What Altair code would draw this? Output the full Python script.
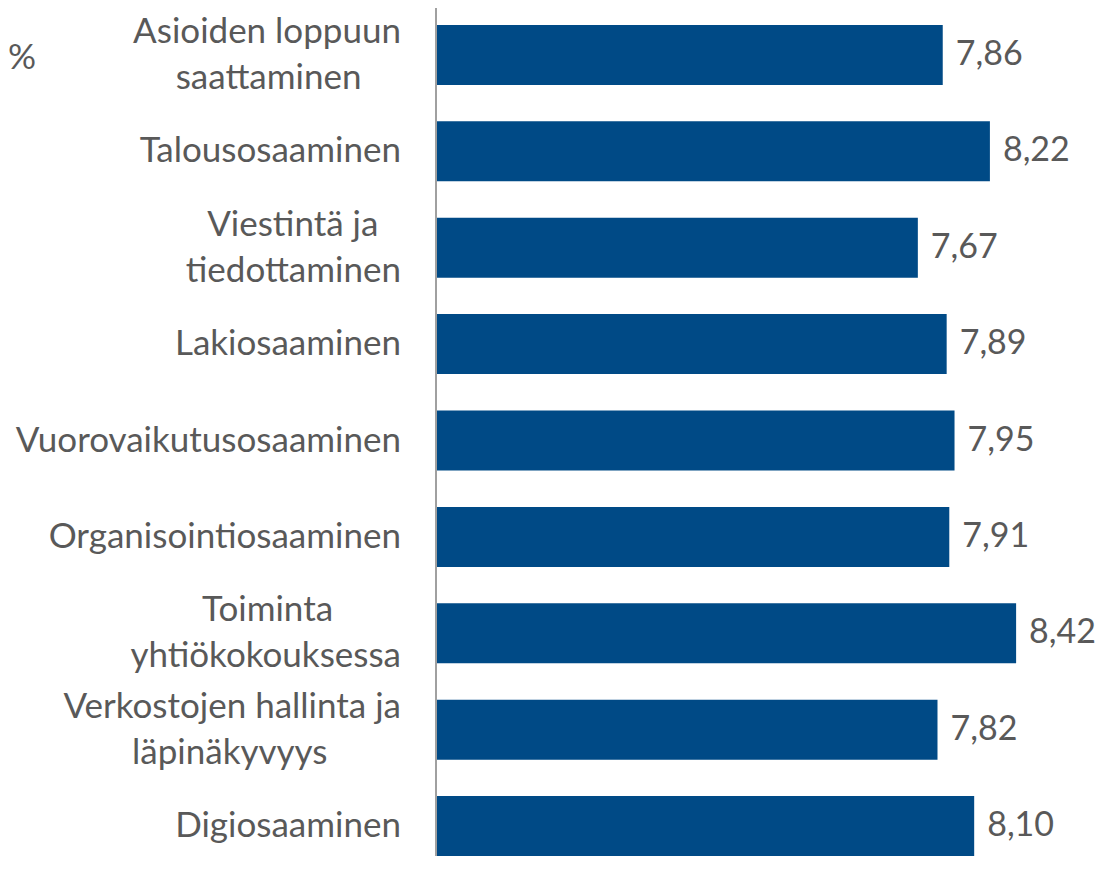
import altair as alt
import pandas as pd

# ---- data ----
categories = [
    "Asioiden loppuun saattaminen",
    "Talousosaaminen",
    "Viestintä ja tiedottaminen",
    "Lakiosaaminen",
    "Vuorovaikutusosaaminen",
    "Organisointiosaaminen",
    "Toiminta yhtiökokouksessa",
    "Verkostojen hallinta ja läpinäkyvyys",
    "Digiosaaminen",
]
label_lines = [
    ["Asioiden loppuun", "saattaminen"],
    ["Talousosaaminen"],
    ["Viestintä ja", "tiedottaminen"],
    ["Lakiosaaminen"],
    ["Vuorovaikutusosaaminen"],
    ["Organisointiosaaminen"],
    ["Toiminta", "yhtiökokouksessa"],
    ["Verkostojen hallinta ja", "läpinäkyvyys"],
    ["Digiosaaminen"],
]
values = [7.86, 8.22, 7.67, 7.89, 7.95, 7.91, 8.42, 7.82, 8.10]
unit_label = "%"
x_min = 4

# ---- style ----
FONT = "Lato"
FS = 35
VAL_FS = 34
TEXT_COLOR = "#595959"
BAR_COLOR = "#004A86"
LINE_H = 46
LABEL_RIGHT = -36

# rough glyph advance widths (em) to centre the lines of a wrapped label
EM = {
    "a": .50, "b": .56, "c": .46, "d": .56, "e": .52, "f": .32, "g": .50, "h": .56,
    "i": .24, "j": .24, "k": .51, "l": .24, "m": .84, "n": .56, "o": .56, "p": .55,
    "r": .37, "s": .43, "t": .36, "u": .56, "v": .51, "y": .51, "ä": .50, "ö": .56,
    " ": .26, "A": .68, "D": .74, "L": .50, "O": .78, "T": .57, "V": .68,
}


def text_w(s):
    return sum(EM.get(c, .55) for c in s) * FS


rows = []
for cat, lines in zip(categories, label_lines):
    widths = [text_w(l) for l in lines]
    mw = max(widths)
    for i, (l, w) in enumerate(zip(lines, widths)):
        if len(lines) == 1:
            kind = "single"
        else:
            kind = "top" if i == 0 else "bottom"
        rows.append({"cat": cat, "text": l, "kind": kind, "px": LABEL_RIGHT - (mw - w) / 2})
lab = pd.DataFrame(rows)

df = pd.DataFrame({"cat": categories, "value": values, "base": [x_min] * len(values)})

xscale = alt.Scale(domain=[x_min, 8.9], zero=False, nice=False)
yscale = alt.Scale(domain=categories, range=[4, 861], paddingInner=0.378, paddingOuter=0.134)

bars = alt.Chart(df).mark_bar(color=BAR_COLOR).encode(
    x=alt.X("base:Q", scale=xscale, axis=None),
    x2="value:Q",
    y=alt.Y("cat:N", scale=yscale, axis=None),
)

vals = alt.Chart(df).transform_calculate(
    lbl="replace(format(datum.value, '.2f'), '.', ',')"
).mark_text(align="left", baseline="middle", dx=13, font=FONT, fontSize=VAL_FS, color=TEXT_COLOR).encode(
    x=alt.X("value:Q", scale=xscale, axis=None),
    y=alt.Y("cat:N", scale=yscale, axis=None),
    text="lbl:N",
)


def label_layer(kind, dy):
    return alt.Chart(lab).transform_filter(alt.datum.kind == kind).mark_text(
        align="right", baseline="middle", dy=dy, font=FONT, fontSize=FS, color=TEXT_COLOR
    ).encode(
        x=alt.X("px:Q", scale=None),
        y=alt.Y("cat:N", scale=yscale, axis=None),
        text="text:N",
    )


axis_line = alt.Chart(pd.DataFrame({"a": [0]})).mark_rule(color="#A0A0A0", strokeWidth=2).encode(
    x=alt.value(-1), y=alt.value(0), y2=alt.value(865)
)

pct = alt.Chart(pd.DataFrame({"t": [unit_label]})).mark_text(
    align="left", baseline="middle", font=FONT, fontSize=FS, color=TEXT_COLOR
).encode(x=alt.value(-429), y=alt.value(50), text="t:N")

chart = alt.layer(
    bars, vals,
    label_layer("single", 0), label_layer("top", -LINE_H / 2), label_layer("bottom", LINE_H / 2),
    axis_line, pct,
).resolve_scale(x="independent").properties(
    width=642, height=848,
    autosize=alt.AutoSizeParams(type="none"),
    padding={"left": 429, "top": 0, "right": 19, "bottom": 0},
).configure_view(stroke=None)

chart.save("out.html", embed_options={"renderer": "svg", "actions": False})
